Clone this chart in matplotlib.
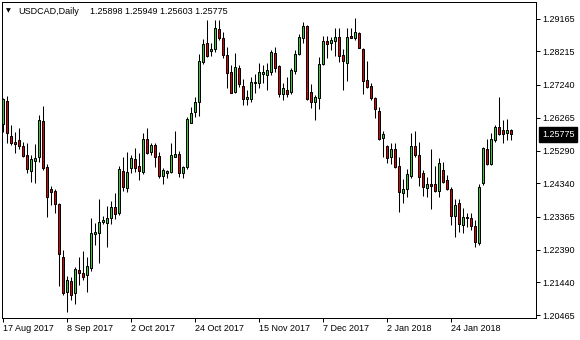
import numpy as np
import matplotlib
matplotlib.use("Agg")
import matplotlib.pyplot as plt

# ===================== DATOS (USDCAD diario) =====================
symbol = "USDCAD,Daily"

opens = [
    1.26082, 1.26758, 1.25730, 1.25554, 1.25613, 1.25437, 1.25172, 1.24702, 1.24996, 1.25114,
    1.26170, 1.24820, 1.24174, 1.24115, 1.23734, 1.22177, 1.21150, 1.21473, 1.21121, 1.21796,
    1.21708, 1.21649, 1.21855, 1.22853, 1.22882, 1.23205, 1.23176, 1.23323, 1.23646, 1.23469,
    1.24702, 1.24203, 1.24791, 1.25055, 1.24849, 1.24673, 1.25642, 1.25261, 1.25466, 1.25143,
    1.24556, 1.24644, 1.24673, 1.25114, 1.25202, 1.24644, 1.24820, 1.26112, 1.26435, 1.26728,
    1.27903, 1.28461, 1.28226, 1.28284, 1.28872, 1.28607, 1.28108, 1.27609, 1.27022, 1.27727,
    1.27198, 1.26816, 1.26816, 1.27286, 1.27286, 1.27550, 1.27521, 1.27609, 1.28167, 1.27785,
    1.26963, 1.27081, 1.27022, 1.27638, 1.28138, 1.28607, 1.28960, 1.27022, 1.26728, 1.26846,
    1.27844, 1.28519, 1.28461, 1.28519, 1.28637, 1.28108, 1.27873, 1.28666, 1.28607, 1.28754,
    1.28284, 1.27374, 1.27198, 1.26846, 1.26464, 1.25671, 1.25437, 1.25114, 1.25349, 1.24849,
    1.24056, 1.24174, 1.24556, 1.25437, 1.25172, 1.24644, 1.24203, 1.24321, 1.24321, 1.24115,
    1.24732, 1.24438, 1.24174, 1.23381, 1.23763, 1.23117, 1.23323, 1.23323, 1.23088, 1.22589,
    1.24350, 1.25349, 1.24908, 1.25613, 1.25994, 1.25906, 1.25818, 1.25898,
]
highs = [
    1.26846, 1.26905, 1.26053, 1.25847, 1.25965, 1.25554, 1.25525, 1.25172, 1.25495, 1.26347,
    1.26611, 1.24908, 1.24262, 1.24174, 1.23763, 1.22383, 1.21620, 1.21590, 1.21884, 1.22177,
    1.22354, 1.22177, 1.23323, 1.23176, 1.23880, 1.23381, 1.23675, 1.23822, 1.24056, 1.24849,
    1.25114, 1.25261, 1.25172, 1.25378, 1.25231, 1.25818, 1.25965, 1.25525, 1.25525, 1.25261,
    1.24791, 1.24732, 1.25525, 1.25877, 1.25290, 1.24849, 1.26288, 1.26582, 1.26875, 1.28138,
    1.28578, 1.29136, 1.28461, 1.29136, 1.29136, 1.28783, 1.28343, 1.27815, 1.28167, 1.27815,
    1.27404, 1.27081, 1.27462, 1.27550, 1.27873, 1.27815, 1.27873, 1.28255, 1.28343, 1.27815,
    1.27286, 1.27462, 1.27727, 1.28255, 1.28725, 1.29077, 1.28989, 1.27257, 1.26934, 1.28050,
    1.28666, 1.28666, 1.28637, 1.28901, 1.28901, 1.28284, 1.28901, 1.28901, 1.29195, 1.28783,
    1.28314, 1.27932, 1.27286, 1.26875, 1.26582, 1.25877, 1.25466, 1.25525, 1.25525, 1.25114,
    1.24467, 1.24761, 1.25818, 1.25877, 1.25554, 1.24732, 1.24526, 1.25349, 1.24849, 1.25084,
    1.24967, 1.24585, 1.24232, 1.23880, 1.23880, 1.23616, 1.23469, 1.23469, 1.23264, 1.24321,
    1.25407, 1.25642, 1.25818, 1.26053, 1.26875, 1.26200, 1.26229, 1.25949,
]
lows = [
    1.25847, 1.25525, 1.25466, 1.25231, 1.25349, 1.25114, 1.24644, 1.24379, 1.24350, 1.24967,
    1.24732, 1.23352, 1.23704, 1.23469, 1.21326, 1.21062, 1.20563, 1.20915, 1.20798, 1.21355,
    1.21502, 1.21150, 1.21766, 1.22530, 1.22001, 1.23147, 1.22471, 1.23147, 1.23293, 1.23411,
    1.24115, 1.24086, 1.24644, 1.24673, 1.24438, 1.24614, 1.25202, 1.25172, 1.24820, 1.24497,
    1.24321, 1.24497, 1.24644, 1.25114, 1.24526, 1.24497, 1.24761, 1.26112, 1.26288, 1.26317,
    1.27844, 1.28050, 1.28079, 1.28196, 1.28549, 1.28020, 1.27139, 1.26992, 1.26992, 1.27169,
    1.26640, 1.26640, 1.26728, 1.26992, 1.27139, 1.27286, 1.27081, 1.27521, 1.27609, 1.26875,
    1.26787, 1.26875, 1.26963, 1.27550, 1.28108, 1.28461, 1.26787, 1.26552, 1.26200, 1.26523,
    1.27815, 1.28020, 1.28255, 1.28079, 1.27903, 1.27081, 1.27345, 1.28607, 1.28549, 1.28314,
    1.26963, 1.27139, 1.26787, 1.26258, 1.25613, 1.25114, 1.24937, 1.24908, 1.24791, 1.23499,
    1.23763, 1.23939, 1.24497, 1.25114, 1.24262, 1.23968, 1.23939, 1.23587, 1.24086, 1.23939,
    1.24350, 1.24145, 1.23117, 1.22765, 1.22912, 1.22882, 1.23058, 1.22970, 1.22471, 1.22530,
    1.24291, 1.24879, 1.24879, 1.25554, 1.25759, 1.25525, 1.25613, 1.25603,
]
closes = [
    1.26816, 1.25818, 1.25525, 1.25495, 1.25437, 1.25143, 1.24761, 1.25055, 1.25084, 1.26200,
    1.24791, 1.23939, 1.24086, 1.23734, 1.22266, 1.21121, 1.21502, 1.21062, 1.21825, 1.21708,
    1.21590, 1.21913, 1.22882, 1.22912, 1.23205, 1.23264, 1.23323, 1.23646, 1.23440, 1.24761,
    1.24232, 1.24673, 1.25084, 1.24791, 1.24702, 1.25642, 1.25231, 1.25466, 1.25114, 1.24556,
    1.24732, 1.24702, 1.25172, 1.25202, 1.24644, 1.24820, 1.26229, 1.26405, 1.26728, 1.27932,
    1.28431, 1.28079, 1.28284, 1.28901, 1.28607, 1.28108, 1.27580, 1.26992, 1.27756, 1.27257,
    1.26816, 1.26875, 1.27316, 1.27316, 1.27609, 1.27609, 1.27668, 1.28196, 1.27727, 1.26963,
    1.27139, 1.26963, 1.27668, 1.28138, 1.28637, 1.28960, 1.26816, 1.26728, 1.26875, 1.27844,
    1.28519, 1.28431, 1.28549, 1.28637, 1.28079, 1.27932, 1.28637, 1.28607, 1.28783, 1.28314,
    1.27345, 1.27169, 1.26846, 1.26523, 1.25642, 1.25789, 1.25084, 1.25349, 1.24820, 1.24086,
    1.24174, 1.24614, 1.25437, 1.25172, 1.24526, 1.24232, 1.24321, 1.24262, 1.24115, 1.24937,
    1.24379, 1.24174, 1.23381, 1.23704, 1.23147, 1.23352, 1.23352, 1.23088, 1.22618, 1.24232,
    1.25378, 1.24908, 1.25642, 1.25994, 1.25789, 1.25789, 1.25906, 1.25775,
]

date_labels = ["17 Aug 2017", "8 Sep 2017", "2 Oct 2017", "24 Oct 2017",
               "15 Nov 2017", "7 Dec 2017", "2 Jan 2018", "24 Jan 2018"]
price_ticks = [1.29165, 1.28215, 1.27240, 1.26265, 1.25290,
               1.24340, 1.23365, 1.22390, 1.21440, 1.20465]
label_step = 16  # barras entre etiquetas de fecha

# ===================== ESTILO =====================
col_up = "#32CD32"
col_dn = "#E00000"
fs = 6.5
plt.rcParams["font.family"] = ["Liberation Sans", "DejaVu Sans"]

o = np.array(opens)
h = np.array(highs)
l = np.array(lows)
c = np.array(closes)
x = np.arange(len(o))
up = c >= o

fig = plt.figure(figsize=(5.8, 3.4), dpi=100)
W, H = 580, 340
ax = fig.add_axes([2 / W, 22 / H, 533.7 / W, 316 / H])

# mechas + cuerpos
ax.vlines(x, l, h, color="black", linewidth=0.75, zorder=1)
ax.bar(x, np.abs(c - o), bottom=np.minimum(o, c), width=0.5,
       color=np.where(up, col_up, col_dn), edgecolor="black", linewidth=0.72, zorder=2)

ax.set_xlim(-0.25, 133.2)
ax.set_ylim(1.20387, 1.29664)

# eje Y a la derecha
ax.yaxis.tick_right()
ax.set_yticks(price_ticks)
ax.set_yticklabels([f"{p:.5f}" for p in price_ticks], fontsize=fs)
ax.tick_params(axis="y", direction="out", length=3, width=0.72, pad=2, colors="black")

# eje X con fechas
ax.set_xticks(np.arange(len(date_labels)) * label_step)
ax.set_xticklabels(date_labels, fontsize=fs, ha="left")
ax.tick_params(axis="x", direction="out", length=3, width=0.72, pad=1.5, colors="black")
for t in ax.get_xticklabels():
    t.set_x(0)

for s in ax.spines.values():
    s.set_linewidth(0.72)
    s.set_color("black")

# precio actual
ax.annotate(f"{closes[-1]:.5f}", xy=(1, closes[-1]), xycoords=ax.get_yaxis_transform(),
            xytext=(4.5, 0), textcoords="offset points", va="center", ha="left",
            fontsize=fs, color="white",
            bbox=dict(boxstyle="square,pad=0.3", fc="black", ec="black"))

# cabecera
fig.text(6 / W, 1 - 11 / H, "▼", fontsize=4.5, va="center", ha="left", family="DejaVu Sans")
fig.text(18 / W, 1 - 11 / H, symbol, fontsize=fs, va="center", ha="left")
fig.text(90 / W, 1 - 11 / H,
         f"{opens[-1]:.5f} {highs[-1]:.5f} {lows[-1]:.5f} {closes[-1]:.5f}",
         fontsize=fs, va="center", ha="left")

fig.savefig("out.png", dpi=100, facecolor="white")
